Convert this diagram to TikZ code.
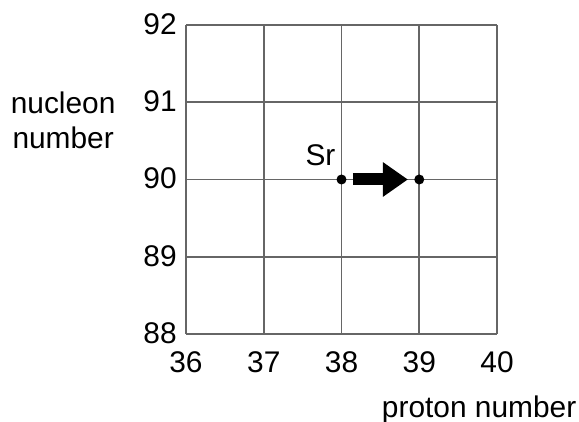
\documentclass[tikz,border=0pt]{standalone}
\usepackage{fontspec}
\setmainfont{Liberation Sans}
\usetikzlibrary{arrows.meta}

\begin{document}
\begin{tikzpicture}[
    every node/.style={font=\fontsize{17}{20}\selectfont},
    dot/.style={circle, fill=black, inner sep=0pt, minimum size=0.2cm},
    gridline/.style={line width=1pt, gray!80!black}
  ]
  \useasboundingbox (0,0) rectangle (11.58,8.44);

  \begin{scope}[shift={(3.72,1.76)}, x=1.555cm, y=1.545cm]
    % Grid of nucleon number against proton number
    \foreach \k in {0,...,4} {
      \draw[gridline] (\k,0) -- (\k,4);
      \draw[gridline] (0,\k) -- (4,\k);
    }

    % Proton number labels
    \foreach \i/\z in {0/36, 1/37, 2/38, 3/39, 4/40}
      \node (z\z) at ([yshift=-0.56cm]\i,0) {\z};

    % Nucleon number labels
    \foreach \j/\a in {0/88, 1/89, 2/90, 3/91, 4/92}
      \node[anchor=east, inner sep=0pt] (a\a) at ([xshift=-0.18cm,yshift=0.02cm]0,\j) {\a};

    % Axis titles
    \node (xtitle) at (3.77,-0.98) {proton number};
    \node[align=center] (ytitle) at (-1.58,2.77) {nucleon\\number};

    % Strontium and its daughter
    \node[dot] (sr) at (2,2) {};
    \node[dot] (daughter) at (3,2) {};
    \node (srlabel) at ([xshift=-0.42cm,yshift=0.48cm]sr.center) {Sr};

    % Decay arrow
    \draw[line width=0.24cm, -{Triangle[length=0.5cm, width=0.66cm]},
      shorten <=0.12cm, shorten >=0.12cm] (sr) -- (daughter);
  \end{scope}
\end{tikzpicture}
\end{document}
